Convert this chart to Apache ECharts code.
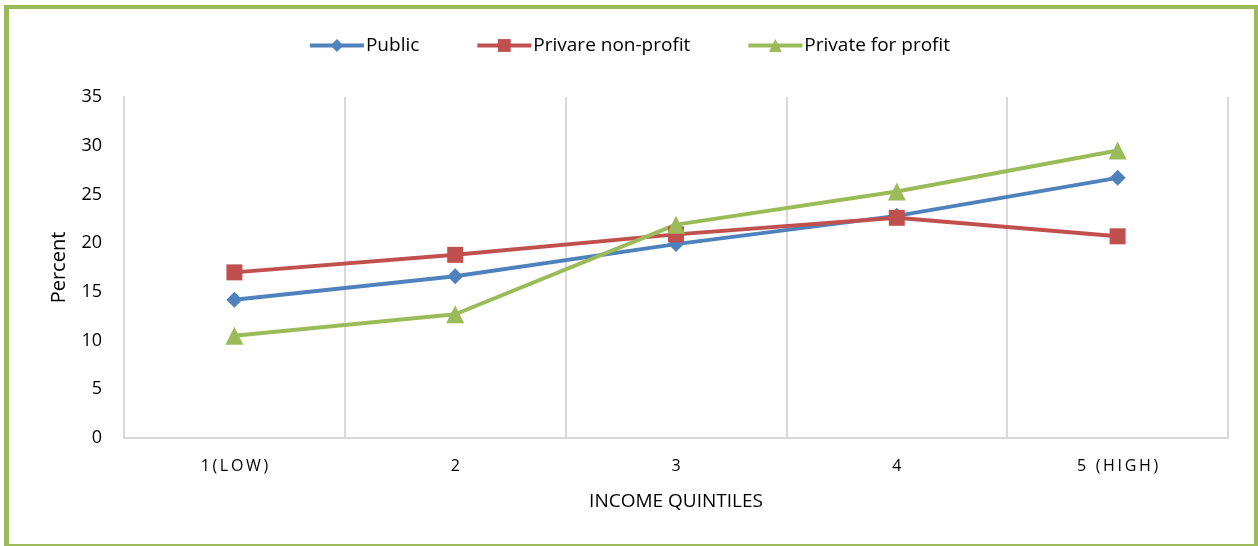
<!DOCTYPE html>
<html>
<head>
<meta charset="utf-8">
<script src="https://cdn.jsdelivr.net/npm/echarts@6/dist/echarts.min.js"></script>
<style>
html,body{margin:0;padding:0;background:#fff;}
#chart{position:absolute;left:0;top:0;width:1258px;height:546px;}
#frame{position:absolute;left:4px;top:5px;width:1254px;height:541px;box-sizing:border-box;border-left:5px solid #9BBB59;border-top:4px solid #9BBB59;border-right:4px solid #9BBB59;border-bottom:2px solid #9BBB59;pointer-events:none;}
</style>
</head>
<body>
<div id="chart"></div>
<div id="frame"></div>
<script>
const categories = ['1(LOW)', '2', '3', '4', '5 (HIGH)'];
const publicValues = [14.2, 16.6, 19.9, 22.8, 26.7];
const nonProfitValues = [17.0, 18.8, 20.9, 22.6, 20.7];
const forProfitValues = [10.5, 12.7, 21.9, 25.3, 29.5];
const yTicks = [0, 5, 10, 15, 20, 25, 30, 35];

const FONT = '"Open Sans", "Liberation Sans", sans-serif';
const chart = echarts.init(document.getElementById('chart'), null, {renderer: 'canvas'});
chart.setOption({
  animation: false,
  textStyle: {fontFamily: FONT},
  color: ['#4F81BD', '#C0504D', '#9BBB59'],
  legend: {
    top: 31,
    left: 'center',
    itemWidth: 54,
    itemHeight: 16,
    itemGap: 56,
    lineStyle: {width: 4},
    textStyle: {fontFamily: FONT, fontSize: 19, color: '#000', padding: [0, 0, 0, -3]},
    data: ['Public', 'Privare non-profit', 'Private for profit']
  },
  grid: {left: 124, right: 30, top: 97, bottom: 108, containLabel: false},
  xAxis: {
    type: 'category',
    data: categories,
    boundaryGap: true,
    name: 'INCOME QUINTILES',
    nameLocation: 'middle',
    nameGap: 54,
    nameTextStyle: {fontFamily: FONT, fontSize: 19, color: '#000'},
    axisLine: {show: true, lineStyle: {color: '#d9d9d9', width: 2}},
    axisTick: {show: false},
    splitLine: {show: true, lineStyle: {color: '#d9d9d9', width: 2}},
    axisLabel: {
      fontFamily: FONT, fontSize: 16, color: '#000', margin: 20,
      formatter: v => v.split('').join('\u2006')
    }
  },
  yAxis: {
    type: 'value',
    min: 0,
    max: 35,
    interval: 5,
    name: 'Percent',
    nameLocation: 'middle',
    nameGap: 55,
    nameRotate: 90,
    nameTextStyle: {fontFamily: FONT, fontSize: 20, color: '#000'},
    axisLine: {show: true, lineStyle: {color: '#d9d9d9', width: 2}},
    axisTick: {show: false},
    splitLine: {show: false},
    axisLabel: {
      fontFamily: FONT, fontSize: 18, color: '#000', margin: 22,
      formatter: v => yTicks.includes(v) ? String(v) : ''
    }
  },
  series: [
    {name: 'Public', type: 'line', data: publicValues, symbol: 'diamond', symbolSize: 16,
     lineStyle: {width: 4}, itemStyle: {color: '#4F81BD'}},
    {name: 'Privare non-profit', type: 'line', data: nonProfitValues, symbol: 'rect', symbolSize: 16,
     lineStyle: {width: 4}, itemStyle: {color: '#C0504D'}},
    {name: 'Private for profit', type: 'line', data: forProfitValues, symbol: 'triangle', symbolSize: 18,
     lineStyle: {width: 4}, itemStyle: {color: '#9BBB59'}}
  ]
});
</script>
</body>
</html>
